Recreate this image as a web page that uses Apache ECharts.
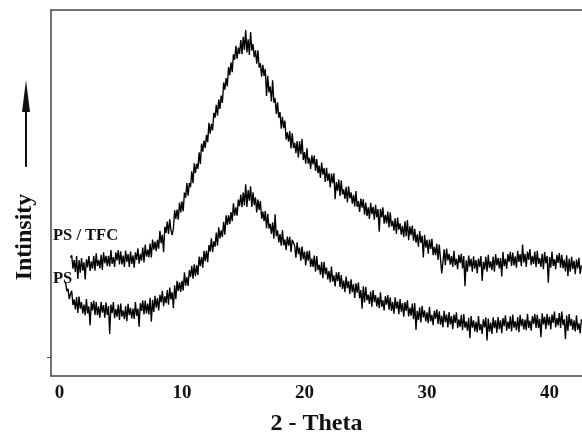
<!DOCTYPE html>
<html>
<head>
<meta charset="utf-8">
<script src="https://cdn.jsdelivr.net/npm/echarts@6/dist/echarts.min.js"></script>
<style>
  html, body { margin: 0; padding: 0; background: #fff; }
  #chart { width: 582px; height: 433px; }
</style>
</head>
<body>
<div id="chart"></div>
<script>
// XRD patterns: intensity (arb. units) sampled every 0.1 degree of 2-theta
const tfcStart = 0.9;   // first angle of the PS / TFC scan
const psStart = 0.5;    // first angle of the PS scan
const angleStep = 0.1;

const tfcIntensity = [
  32.3,
  33.0,29.3,31.7,28.4,32.8,26.5,31.7,28.2,32.2,28.8,
  31.1,26.4,31.9,29.7,32.8,28.7,31.3,29.3,32.8,28.8,
  33.5,30.0,31.7,29.4,33.1,29.0,33.8,30.8,32.8,30.0,
  32.8,29.9,34.4,30.6,32.5,29.8,33.8,31.6,34.4,30.5,
  34.1,30.5,32.9,29.8,34.3,31.2,33.3,29.8,34.0,30.6,
  33.0,29.6,33.8,31.7,34.9,30.7,33.4,31.5,35.1,31.0,
  35.9,32.6,34.5,32.4,36.2,32.4,37.3,34.5,36.7,34.1,
  37.2,34.8,39.7,36.3,38.6,33.8,40.8,39.1,42.2,38.8,
  42.8,39.8,38.5,40.3,45.3,42.9,45.5,42.7,47.4,44.7,
  47.7,45.0,50.1,48.7,52.7,49.3,52.7,51.6,55.9,52.7,
  58.1,55.4,58.0,56.6,61.1,57.9,63.5,61.3,64.3,62.3,
  65.9,63.9,69.2,66.2,68.9,67.1,71.9,70.6,74.1,71.1,
  75.5,73.0,76.6,74.6,80.2,78.2,81.4,79.1,84.4,82.2,
  85.7,83.0,87.9,86.4,90.2,86.7,89.7,88.0,91.8,87.9,
  92.7,89.1,94.5,88.4,92.0,87.7,94.0,88.9,90.7,87.1,
  89.0,85.3,89.0,84.3,85.4,81.8,85.0,82.0,83.9,76.5,
  82.0,77.5,79.1,75.0,80.8,74.7,75.9,71.6,74.8,70.6,
  72.1,67.6,70.8,67.7,69.8,64.6,66.6,64.0,66.9,62.2,
  66.3,62.3,63.7,60.9,64.2,59.7,64.1,60.6,64.8,59.0,
  61.2,58.0,62.2,58.0,59.6,56.6,60.3,57.8,60.2,56.0,
  59.3,55.4,57.5,54.1,58.3,55.0,56.8,53.0,56.9,53.3,
  55.4,51.5,55.3,52.7,55.4,48.3,53.0,50.6,53.7,49.2,
  53.4,49.6,51.0,48.4,51.7,47.4,51.8,48.5,50.2,47.1,
  49.5,46.3,50.5,46.2,47.8,44.8,48.5,46.0,48.3,44.1,
  47.4,43.7,46.1,42.9,47.3,44.2,46.2,42.7,46.8,43.4,
  45.6,39.4,45.7,43.3,46.1,41.6,44.0,41.7,44.9,40.6,
  44.7,40.9,42.4,39.7,43.1,38.8,43.3,40.0,41.7,38.6,
  41.0,37.9,42.3,38.2,42.6,37.1,40.9,38.5,41.1,37.0,
  40.2,36.4,38.7,35.3,39.6,36.4,38.3,32.4,38.6,35.1,
  37.2,33.4,37.3,34.7,37.5,33.0,35.3,33.0,36.1,31.7,
  35.9,32.1,28.0,31.1,34.6,30.3,34.8,31.6,33.4,30.4,
  32.8,29.8,34.2,30.2,32.0,29.2,33.1,30.8,33.4,29.4,
  32.8,24.5,31.6,28.5,32.9,29.9,32.0,28.5,32.7,29.3,
  31.7,28.1,32.1,29.8,32.8,26.0,31.2,29.1,32.6,28.5,
  33.1,29.5,31.3,28.9,32.6,28.5,33.3,30.2,32.3,29.4,
  32.2,27.2,33.9,30.0,32.0,29.3,33.3,31.2,33.9,30.1,
  33.7,30.2,32.7,29.6,34.2,31.2,33.3,30.0,35.9,31.0,
  33.4,29.8,34.0,31.7,34.7,30.3,32.8,30.6,34.0,29.7,
  34.2,30.6,32.2,29.8,33.4,29.2,33.9,30.8,32.8,25.5,
  32.5,29.6,34.0,30.1,31.9,29.2,33.1,30.9,33.6,29.6,
  33.1,29.4,31.8,28.6,33.0,27.3,32.0,28.5,32.6,29.2,
  31.5,27.8,31.8,29.4,32.3,27.9,30.2
];

const psIntensity = [
  25.6,23.2,23.8,21.0,22.4,
  23.3,19.4,20.9,18.2,21.6,17.2,21.7,18.4,20.2,17.1,
  19.5,16.6,21.0,17.1,19.0,13.8,20.2,17.9,20.6,16.7,
  20.2,16.6,19.0,15.9,20.3,17.3,19.4,15.9,20.1,16.7,
  19.1,11.5,19.5,17.2,20.2,15.8,18.3,16.2,19.5,15.3,
  19.8,16.2,17.9,15.5,19.1,15.0,19.7,16.6,18.6,15.7,
  18.4,15.6,20.2,16.4,18.4,13.5,19.9,17.8,20.6,16.8,
  20.6,17.1,19.8,16.8,21.4,14.8,20.8,17.5,21.9,18.7,
  21.3,17.9,22.2,20.1,23.3,19.1,21.8,19.9,23.5,19.5,
  24.2,20.9,22.9,18.5,24.8,21.0,26.0,23.2,25.6,23.0,
  26.0,23.4,28.3,24.7,27.0,24.6,28.9,27.1,30.1,26.6,
  30.5,27.3,30.3,27.6,32.6,30.0,32.5,29.6,34.2,31.4,
  34.2,31.1,35.8,34.0,37.6,33.8,36.8,35.3,39.2,35.6,
  40.6,37.6,39.8,38.0,42.1,38.6,43.9,41.3,43.9,41.5,
  44.8,42.3,47.2,43.8,46.1,43.8,48.2,46.4,49.6,46.1,
  50.1,46.6,52.4,46.2,50.8,47.9,51.8,46.2,50.2,46.7,
  48.8,44.7,48.2,45.4,47.8,43.0,44.9,42.3,45.1,40.4,
  44.3,40.3,41.6,38.8,42.0,37.5,44.2,38.2,39.8,36.5,
  38.8,35.6,39.9,35.7,37.3,34.4,38.1,35.6,38.0,33.9,
  37.2,36.9,35.6,32.3,36.5,33.3,35.1,31.5,35.4,31.9,
  34.0,30.2,34.1,31.5,34.3,29.8,32.1,29.8,32.9,28.5,
  32.8,28.9,30.4,27.7,31.1,26.7,31.2,27.8,29.6,26.4,
  28.7,25.6,29.9,25.8,27.5,24.5,28.3,25.9,28.4,24.3,
  27.6,23.8,26.1,22.9,27.2,24.0,25.9,22.4,26.4,22.9,
  25.1,21.3,25.3,22.8,25.6,21.2,23.5,18.4,24.5,20.1,
  24.4,20.7,22.2,19.7,23.1,18.9,23.5,20.2,22.1,19.0,
  21.5,18.5,22.9,18.9,20.7,17.9,21.8,19.5,22.1,18.1,
  21.5,17.8,20.2,17.0,21.5,18.4,20.4,16.9,21.0,17.6,
  19.9,16.2,20.2,17.8,20.7,16.3,18.7,16.5,19.8,15.5,
  19.9,12.6,17.8,15.3,18.8,14.6,19.2,16.0,17.9,14.9,
  17.4,14.4,18.9,14.9,16.7,13.9,17.9,15.6,18.2,14.2,
  17.7,14.0,16.5,13.3,17.8,14.7,16.8,13.3,17.5,14.1,
  16.4,12.8,16.8,14.5,17.4,13.1,15.5,13.4,16.7,12.5,
  16.9,13.2,14.9,12.4,15.9,10.3,16.4,13.2,15.2,12.2,
  14.8,11.9,16.4,12.5,14.2,11.5,15.5,13.3,16.0,9.7,
  15.7,12.1,14.6,11.5,16.0,13.1,15.2,11.8,16.1,12.8,
  15.2,11.7,15.8,13.6,16.6,12.4,14.9,12.9,16.3,12.2,
  16.8,13.2,14.9,12.5,16.1,12.0,16.7,13.6,15.6,12.7,
  15.4,12.5,17.0,13.1,15.1,12.4,16.4,14.2,16.9,13.1,
  16.7,13.1,15.6,10.6,17.1,14.1,16.2,12.8,17.0,13.8,
  16.2,12.7,16.8,14.5,17.6,13.3,15.8,13.8,17.2,13.1,
  17.6,13.9,15.5,10.1,16.5,12.3,16.9,13.7,15.6,12.6,
  15.2,12.2,16.6,12.6,14.4,11.6,15.5
];

const xTickLabels = [0, 10, 20, 30, 40];
const yTickMarks = [5];
const seriesNames = ['PS / TFC', 'PS'];
const xTitle = '2 - Theta';
const yTitle = 'Intinsity';

function toPairs(start, values) {
  return values.map((v, i) => [+(start + i * angleStep).toFixed(1), v]);
}

const serif = '"Liberation Serif", "DejaVu Serif", serif';
const ink = '#111';
const axisLine = { show: true, onZero: false, lineStyle: { color: '#444', width: 1.5 } };

const chart = echarts.init(document.getElementById('chart'), null, { renderer: 'canvas' });
chart.setOption({
  animation: false,
  backgroundColor: '#fff',
  grid: { left: 51, right: 0, top: 10, bottom: 57, outerBoundsMode: 'none' },
  xAxis: [
    {
      type: 'value', min: -0.69, max: 42.65,
      axisLine: axisLine,
      axisTick: { show: false },
      splitLine: { show: false },
      axisLabel: { customValues: xTickLabels, fontSize: 19, margin: 8,
                   fontFamily: serif, fontWeight: 'bold', color: ink },
      name: xTitle, nameLocation: 'middle', nameGap: 36,
      nameTextStyle: { fontSize: 24, fontFamily: serif, fontWeight: 'bold', color: ink }
    },
    {
      type: 'value', position: 'top', min: -0.69, max: 42.65,
      axisLine: axisLine, axisTick: { show: false },
      axisLabel: { show: false }, splitLine: { show: false }
    }
  ],
  yAxis: {
    type: 'value', min: 0, max: 100,
    axisLine: axisLine,
    axisTick: { show: true, customValues: yTickMarks, length: 4, lineStyle: { color: '#444' } },
    axisLabel: { show: false },
    splitLine: { show: false }
  },
  series: [
    {
      name: seriesNames[0], type: 'line', data: toPairs(tfcStart, tfcIntensity),
      showSymbol: false, lineStyle: { color: '#000', width: 1.35 }
    },
    {
      name: seriesNames[1], type: 'line', data: toPairs(psStart, psIntensity),
      showSymbol: false, lineStyle: { color: '#000', width: 1.35 }
    }
  ],
  graphic: [
    // intensity axis title, read bottom-to-top, with an upward arrow above it
    { type: 'text', x: 25, y: 237, rotation: Math.PI / 2,
      style: { text: yTitle, fontSize: 24, fontFamily: serif, fontWeight: 'bold', fill: ink,
               align: 'center', verticalAlign: 'middle' } },
    { type: 'line', shape: { x1: 26, y1: 167, x2: 26, y2: 100 }, style: { stroke: ink, lineWidth: 2 } },
    { type: 'polygon', shape: { points: [[26, 80], [30, 112], [22, 112]] }, style: { fill: ink } },
    // curve labels
    { type: 'text', x: 53, y: 236,
      style: { text: seriesNames[0], fontSize: 16.5, fontFamily: serif, fontWeight: 'bold', fill: ink,
               verticalAlign: 'middle' } },
    { type: 'text', x: 53, y: 279,
      style: { text: seriesNames[1], fontSize: 16.5, fontFamily: serif, fontWeight: 'bold', fill: ink,
               verticalAlign: 'middle' } }
  ]
});
</script>
</body>
</html>
